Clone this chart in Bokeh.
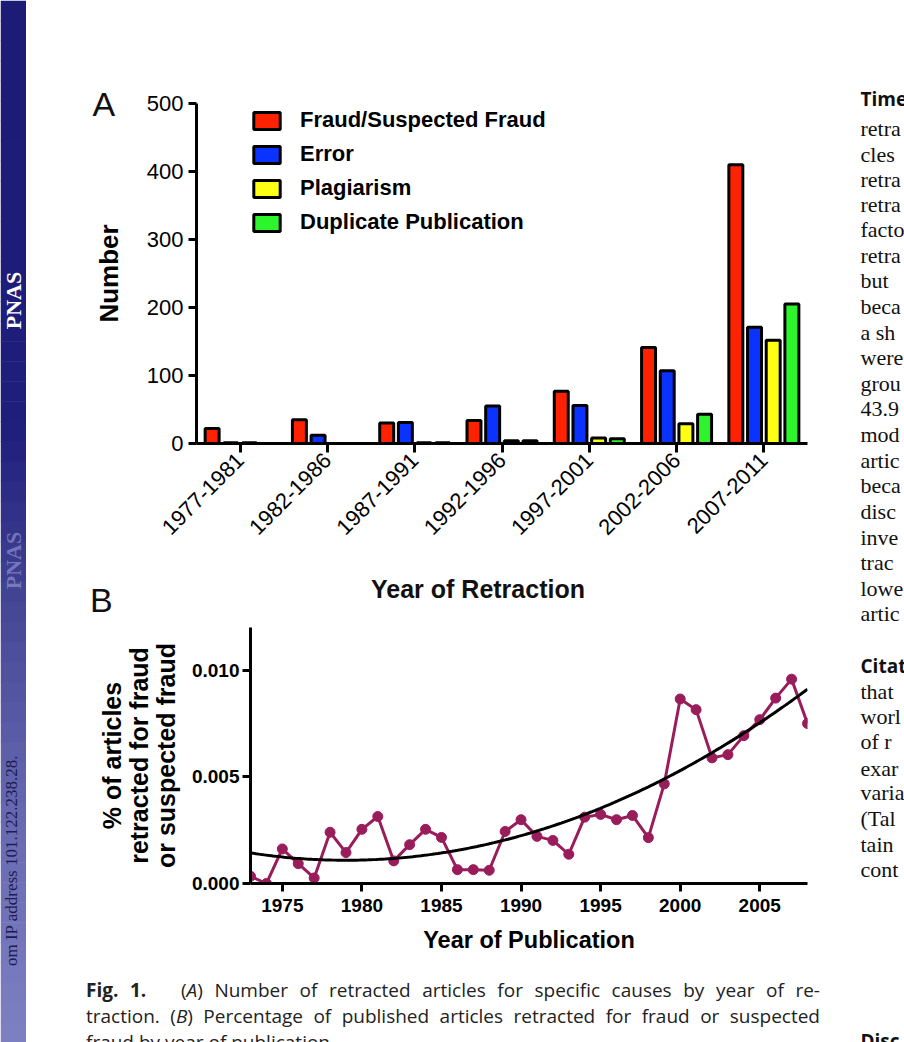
import numpy as np
from math import pi
from bokeh.plotting import figure
from bokeh.models import (FactorRange, Range1d, Legend, LegendItem, Label, Div, Spacer,
                          FixedTicker, NumeralTickFormatter, ColumnDataSource)
from bokeh.layouts import row, column
from bokeh.transform import dodge
from bokeh.embed import file_html
from bokeh.resources import INLINE

# ---------------- data ----------------
# Panel A: number of retracted articles per cause, by year of retraction
periods = ["1977-1981", "1982-1986", "1987-1991", "1992-1996",
           "1997-2001", "2002-2006", "2007-2011"]
fraud = [22, 35, 30, 34, 77, 141, 410]
error = [1, 12, 31, 55, 56, 107, 171]
plagiarism = [1, 0, 1, 4, 8, 29, 152]
duplicate = [0, 0, 1, 4, 7, 43, 205]
count_ticks = [0, 100, 200, 300, 400, 500]

# Panel B: % of articles retracted for fraud, by year of publication
pub_years = list(range(1973, 2009))
pct_fraud = [0.00034, 0.00000, 0.00162, 0.00093, 0.00026, 0.00240, 0.00145, 0.00254, 0.00314, 0.00106,
             0.00182, 0.00254, 0.00216, 0.00065, 0.00065, 0.00062, 0.00244, 0.00299, 0.00221, 0.00202,
             0.00137, 0.00311, 0.00324, 0.00299, 0.00319, 0.00215, 0.00467, 0.00865, 0.00815, 0.00589,
             0.00604, 0.00693, 0.00768, 0.00869, 0.00958, 0.00750]
pct_ticks = [0.0, 0.005, 0.010]
year_ticks = [1975, 1980, 1985, 1990, 1995, 2000, 2005]

SANS = "Liberation Sans"
SERIF = "Liberation Serif"
CAPTION = "Open Sans"
MAROON = "#9a1d5b"


def style_axis(ax, size, bold=False):
    ax.axis_line_width = 3
    ax.axis_line_color = "black"
    ax.major_tick_line_width = 3
    ax.major_tick_out = 8
    ax.major_tick_in = 0
    ax.minor_tick_line_color = None
    ax.major_label_text_font = SANS
    ax.major_label_text_font_size = size
    ax.major_label_text_font_style = "bold" if bold else "normal"
    ax.major_label_text_color = "black"
    ax.axis_label_text_font = SANS
    ax.axis_label_text_font_style = "bold"
    ax.axis_label_text_color = "black"


# ---------------- panel A ----------------
pA = figure(x_range=FactorRange(factors=periods, range_padding=0),
            y_range=Range1d(0, 500), width=804, height=570,
            output_backend="svg", toolbar_location=None,
            min_border_left=170, min_border_right=23,
            min_border_top=103, min_border_bottom=127)
pA.outline_line_color = None
pA.grid.visible = False

# panel letter as the plot title, pulled to the left of the axis
pA.title.text = "A"
pA.title.align = "left"
pA.title.offset = -104
pA.title.vertical_align = "middle"
pA.title.standoff = -42
pA.title.text_font = SANS
pA.title.text_font_size = "34px"
pA.title.text_font_style = "normal"
pA.title.text_color = "#111111"

src = ColumnDataSource(dict(period=periods, fraud=fraud, error=error,
                            plagiarism=plagiarism, duplicate=duplicate))
series = [("fraud", -0.321, "#ff2200", "Fraud/Suspected Fraud"),
          ("error", -0.107, "#0a33ff", "Error"),
          ("plagiarism", 0.107, "#ffff14", "Plagiarism"),
          ("duplicate", 0.321, "#2cf52c", "Duplicate Publication")]
items = []
for key, off, color, name in series:
    r = pA.vbar(x=dodge("period", off, range=pA.x_range), top=key, bottom=0,
                width=0.16, source=src, fill_color=color,
                line_color="black", line_width=3)
    items.append(LegendItem(label=name, renderers=[r]))

style_axis(pA.xaxis[0], "22px")
pA.xaxis.major_tick_out = 9
pA.xaxis.major_label_orientation = pi / 4
pA.xaxis.major_label_standoff = 4
style_axis(pA.yaxis[0], "22px")
pA.yaxis.ticker = FixedTicker(ticks=count_ticks)
pA.yaxis.axis_label = "Number"
pA.yaxis.axis_label_text_font_size = "26px"
pA.yaxis.axis_label_standoff = 20
pA.yaxis.major_label_standoff = 5

legend = Legend(items=items, location=(54, 208), orientation="vertical",
                label_text_font=SANS, label_text_font_size="22px",
                label_text_font_style="bold", label_text_color="black",
                glyph_width=33, glyph_height=21, label_standoff=17,
                spacing=8, padding=0, margin=0,
                border_line_color=None, background_fill_alpha=0)
pA.add_layout(legend)

# ---------------- band between the panels ----------------
mid = Div(width=804, height=50, margin=(0, 0, 0, 0), text="""
<div style="position:relative;width:804px;height:50px;overflow:hidden;color:#111;">
  <div style="position:absolute;left:64px;top:17px;font-family:'Liberation Sans';font-size:34px;line-height:26px;">B</div>
  <div style="position:absolute;left:152px;width:600px;top:7px;text-align:center;white-space:nowrap;
              font-family:'Liberation Sans';font-weight:bold;font-size:25px;line-height:25px;">Year of Retraction</div>
</div>""")

# ---------------- panel B ----------------
pB = figure(x_range=Range1d(1973, 2008), y_range=Range1d(0, 0.012),
            width=750, height=346, output_backend="svg", toolbar_location=None,
            min_border_left=170, min_border_right=23,
            min_border_top=7, min_border_bottom=83)
pB.outline_line_color = None
pB.grid.visible = False

pB.line(pub_years, pct_fraud, line_color=MAROON, line_width=3)
pB.scatter(pub_years, pct_fraud, size=10, fill_color=MAROON, line_color=MAROON)

# second-order polynomial trend through the yearly values
coef = np.polyfit(pub_years, pct_fraud, 2)
fit_x = np.linspace(pub_years[0], pub_years[-1], 200)
pB.line(fit_x, np.polyval(coef, fit_x), line_color="black", line_width=3)

style_axis(pB.xaxis[0], "19px", bold=True)
pB.xaxis.ticker = FixedTicker(ticks=year_ticks)
pB.xaxis.axis_label = "Year of Publication"
pB.xaxis.axis_label_text_font_size = "23.5px"
pB.xaxis.major_label_standoff = 7
pB.xaxis.axis_label_standoff = 12
style_axis(pB.yaxis[0], "19px", bold=True)
pB.yaxis.ticker = FixedTicker(ticks=pct_ticks)
pB.yaxis.formatter = NumeralTickFormatter(format="0.000")
pB.yaxis.major_label_standoff = 3
pB.yaxis.axis_label = "% of articles\nretracted for fraud\nor suspected fraud"
pB.yaxis.axis_label_text_font_size = "25px"
pB.yaxis.axis_label_text_line_height = 0.96
pB.yaxis.axis_label_standoff = 9

# ---------------- figure caption ----------------
caption = Div(width=804, height=76, margin=(0, 0, 0, 0), text="""
<div style="position:relative;width:804px;height:76px;overflow:hidden;color:#222;
            font-family:'Open Sans';font-size:19px;line-height:26px;">
  <div style="position:absolute;left:60px;top:11px;width:734px;white-space:nowrap;
              text-align:justify;text-align-last:justify;"><b>Fig. 1.</b>&nbsp;&nbsp; (<i>A</i>) Number of retracted articles for specific causes by year of re-</div>
  <div style="position:absolute;left:60px;top:37px;width:734px;white-space:nowrap;
              text-align:justify;text-align-last:justify;">traction. (<i>B</i>) Percentage of published articles retracted for fraud or suspected</div>
  <div style="position:absolute;left:60px;top:63px;width:734px;white-space:nowrap;">fraud by year of publication.</div>
</div>""")

# ---------------- left journal strip ----------------
strip = figure(width=26, height=1042, x_range=Range1d(0, 26), y_range=Range1d(1042, 0),
               output_backend="svg", toolbar_location=None,
               x_axis_type=None, y_axis_type=None, min_border=0)
strip.outline_line_color = None
strip.grid.visible = False
stops = [(0, (28, 28, 118)), (430, (31, 31, 124)), (620, (72, 74, 152)),
         (820, (104, 106, 178)), (1042, (126, 128, 196))]
bands = np.linspace(0, 1042, 53)
tops, bots, cols = [], [], []
for a, b in zip(bands[:-1], bands[1:]):
    m = 0.5 * (a + b)
    rgb = [int(np.interp(m, [s[0] for s in stops], [s[1][k] for s in stops])) for k in range(3)]
    tops.append(a)
    bots.append(b + 0.6)
    cols.append("#%02x%02x%02x" % tuple(rgb))
strip.quad(left=0, right=26, top=tops, bottom=bots, fill_color=cols, line_color=None)
strip.add_layout(Label(x=13, y=300, text="PNAS", angle=pi / 2, text_font=SERIF,
                       text_font_size="22px", text_font_style="bold", text_color="white",
                       text_align="center", text_baseline="middle"))
strip.add_layout(Label(x=13, y=560, text="PNAS", angle=pi / 2, text_font=SERIF,
                       text_font_size="22px", text_font_style="bold", text_color="#9c9ed6",
                       text_align="center", text_baseline="middle", text_alpha=0.6))
strip.add_layout(Label(x=11, y=860, text="om IP address 101.122.238.28.", angle=pi / 2,
                       text_font=SERIF, text_font_size="17px", text_color="#1c1c50",
                       text_align="center", text_baseline="middle"))

# ---------------- right text column (cut by page edge) ----------------
side = figure(width=74, height=1042, x_range=Range1d(0, 74), y_range=Range1d(1042, 0),
              output_backend="svg", toolbar_location=None,
              x_axis_type=None, y_axis_type=None, min_border=0)
side.outline_line_color = None
side.grid.visible = False
body_lines = [(128, "retra"), (154, "cles"), (179, "retra"), (204, "retra"),
              (229, "facto"), (255, "retra"), (280, "but"), (306, "beca"),
              (332, "a sh"), (357, "were"), (383, "grou"), (408, "43.9"),
              (434, "mod"), (460, "artic"), (485, "beca"), (511, "disc"),
              (537, "inve"), (562, "trac"), (588, "lowe"), (613, "artic"),
              (691, "that"), (716, "worl"), (741, "of r"), (768, "exar"),
              (792, "varia"), (818, "(Tal"), (844, "tain"), (869, "cont")]
for yy, t in body_lines:
    side.add_layout(Label(x=30, y=yy, text=t, text_font=SERIF, text_font_size="22px",
                          text_color="#111111", text_baseline="middle", text_align="left"))
for yy, t in [(98, "Time"), (665, "Citat"), (1040, "Disc")]:
    side.add_layout(Label(x=30, y=yy, text=t, text_font=CAPTION, text_font_size="19px",
                          text_font_style="bold", text_color="#111111",
                          text_baseline="middle", text_align="left"))

middle = column(pA, mid, row(Spacer(width=54, height=346, margin=(0, 0, 0, 0)), pB), caption)
page = row(strip, middle, side)
open("out.html", "w").write(file_html(page, INLINE))
